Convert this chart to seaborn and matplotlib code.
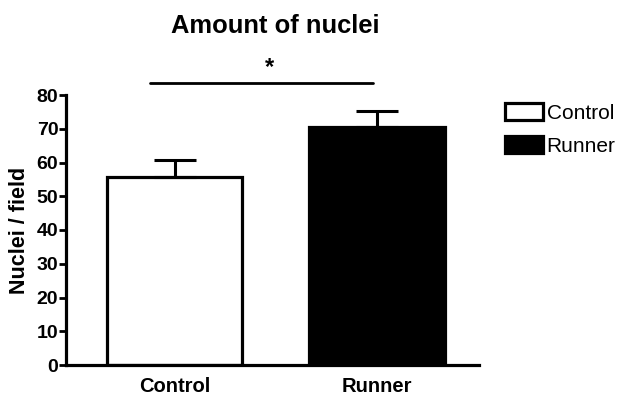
import matplotlib
matplotlib.use("Agg")
import matplotlib.pyplot as plt
import seaborn as sns
import pandas as pd
from matplotlib.patches import Patch

groups = ["Control", "Runner"]
means = [55.8, 70.4]
sems = [4.8, 4.9]
yticks = [0, 10, 20, 30, 40, 50, 60, 70, 80]
title = "Amount of nuclei"
ylabel = "Nuclei / field"
sig_text = "*"
sig_level = 83.6

sns.set_style("white")
plt.rcParams['font.family'] = ['Liberation Sans', 'DejaVu Sans']
plt.rcParams.update({"text.color": "black", "axes.labelcolor": "black",
                     "xtick.color": "black", "ytick.color": "black"})

df = pd.DataFrame({"group": groups, "mean": means, "sem": sems})

fig = plt.figure(figsize=(6.24, 3.95), dpi=100)
ax = fig.add_axes([66/624, 1-365/395, (479-66)/624, (365-95)/395])

sns.barplot(data=df, x="group", y="mean", hue="group", order=groups,
            palette={"Control": "white", "Runner": "black"},
            edgecolor="black", linewidth=2.3, width=0.67, dodge=False,
            legend=False, errorbar=None, ax=ax)

xs = range(len(groups))
ax.errorbar(list(xs), means, yerr=[[0]*len(sems), sems], fmt="none",
            ecolor="black", elinewidth=2.2, capsize=15, capthick=2.2, zorder=1)

ax.set_ylim(0, 80)
ax.set_xlim(-0.536, 1.504)
ax.set_yticks(yticks)
ax.set_yticklabels([str(t) for t in yticks], fontweight="bold", fontsize=14)
ax.set_xticks(list(xs))
ax.set_xticklabels(groups, fontweight="bold", fontsize=14.5)
ax.tick_params(axis="y", direction="out", length=5, width=2, pad=0.5, left=True)
ax.tick_params(axis="x", length=0, pad=9)
ax.set_xlabel("")
ax.set_ylabel(ylabel, fontweight="bold", fontsize=15.5, labelpad=5)
for s in ["top", "right"]:
    ax.spines[s].set_visible(False)
for s in ["left", "bottom"]:
    ax.spines[s].set_linewidth(2.3)
    ax.spines[s].set_color("black")

ax.plot([-0.12, 0.98], [sig_level, sig_level], color="black", lw=2, clip_on=False)
ax.text(0.47, sig_level + 1.0, sig_text, ha="center", va="bottom",
        fontsize=17, fontweight="bold")

fig.text(275/624, 1-26/395, title, ha="center", va="center",
         fontsize=18.4, fontweight="bold")

handles = [Patch(facecolor="white", edgecolor="black", linewidth=2.3),
           Patch(facecolor="black", edgecolor="black", linewidth=2.3)]
fig.legend(handles, groups, loc="upper left", bbox_to_anchor=(505/624, 1-103/395),
           frameon=False, fontsize=15, handlelength=1.8, handleheight=0.85,
           handletextpad=0.2, labelspacing=0.65, borderpad=0, borderaxespad=0)

fig.savefig("out.png", dpi=100)
